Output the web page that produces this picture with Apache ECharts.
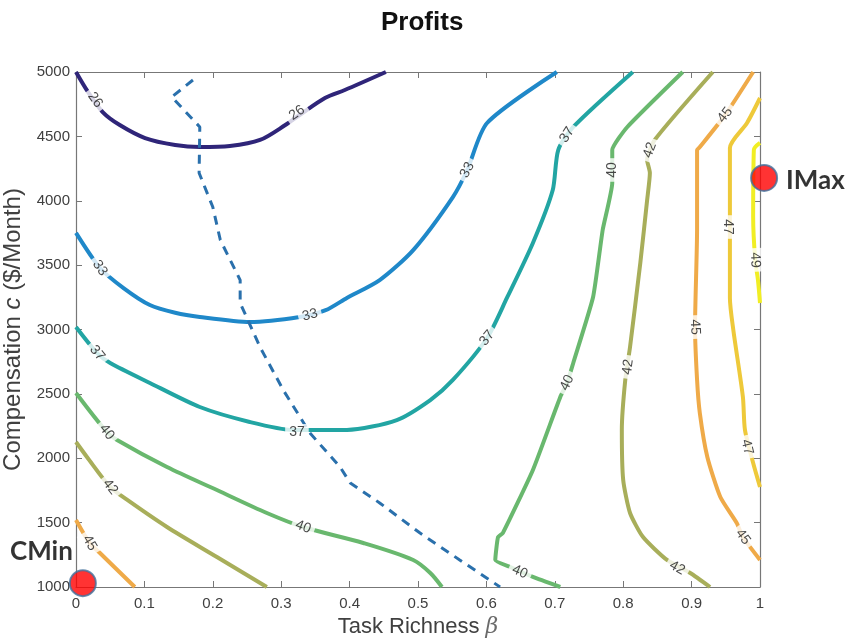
<!DOCTYPE html>
<html>
<head>
<meta charset="utf-8">
<script src="https://cdn.jsdelivr.net/npm/echarts@6/dist/echarts.min.js"></script>
<style>
  html, body { margin: 0; padding: 0; background: #fff; }
  #chart { width: 848px; height: 640px; }
</style>
</head>
<body>
<div id="chart"></div>
<script>
// Profit contours over task richness (beta) and monthly compensation (c)
const xTicks = [0, 0.1, 0.2, 0.3, 0.4, 0.5, 0.6, 0.7, 0.8, 0.9, 1];
const yTicks = [1000, 1500, 2000, 2500, 3000, 3500, 4000, 4500, 5000];

const c26 = [[0,5000],[0.0175,4845],[0.039,4689],[0.064,4588],[0.101,4487],[0.145,4433],[0.181,4417],
  [0.225,4425],[0.269,4472],[0.306,4588],[0.327,4666],[0.364,4798],[0.393,4860],[0.453,5000]];
const c33 = [[0,3750],[0.035,3478],[0.07,3320],[0.108,3190],[0.145,3130],[0.181,3097],[0.254,3058],
  [0.327,3097],[0.365,3150],[0.396,3245],[0.444,3384],[0.493,3617],[0.551,4029],[0.572,4239],
  [0.601,4604],[0.703,5000]];
const c37 = [[0,3020],[0.031,2817],[0.05,2740],[0.108,2585],[0.181,2398],[0.254,2282],[0.317,2220],
  [0.396,2220],[0.469,2297],[0.518,2452],[0.551,2608],[0.601,2934],[0.630,3245],[0.668,3672],
  [0.697,4083],[0.705,4394],[0.727,4573],[0.814,5000]];
const c40a = [[0,2507],[0.045,2204],[0.06,2142],[0.133,1932],[0.206,1753],[0.279,1575],[0.332,1466],
  [0.42,1342],[0.493,1210],[0.518,1109],[0.535,1000]];
const c40b = [[0.708,1000],[0.668,1078],[0.635,1155],[0.613,1210],[0.617,1388],[0.624,1419],
  [0.668,1909],[0.708,2476],[0.718,2585],[0.727,2740],[0.756,3252],[0.770,3773],[0.784,4138],
  [0.784,4394],[0.806,4573],[0.887,5000]];
const c42a = [[0,2126],[0.016,2010],[0.05,1777],[0.075,1676],[0.133,1466],[0.206,1233],[0.279,1000]];
const c42b = [[0.927,1000],[0.898,1109],[0.864,1210],[0.829,1388],[0.810,1575],[0.800,1831],
  [0.798,2220],[0.803,2608],[0.810,2864],[0.825,3516],[0.835,4006],[0.839,4216],[0.835,4317],
  [0.846,4472],[0.931,5000]];
const c45a = [[0,1520],[0.02,1342],[0.035,1264],[0.086,1000]];
const c45b = [[1.0,1210],[0.975,1388],[0.966,1497],[0.942,1699],[0.923,2010],[0.912,2352],
  [0.908,2608],[0.905,3019],[0.908,3773],[0.908,4394],[0.912,4417],[0.949,4666],[0.990,5000]];
const c47 = [[1.0,4798],[0.981,4604],[0.956,4410],[0.956,3874],[0.956,3245],[0.961,2996],
  [0.975,2476],[0.978,2220],[0.990,1963],[1.0,1777]];
const c49 = [[1.0,4449],[0.991,4394],[0.990,3874],[0.993,3540],[0.997,3384],[1.0,3206]];

// optimal-beta boundary (dashed)
const boundary = [[0.171,4938],[0.140,4806],[0.181,4573],[0.180,4216],[0.200,3951],[0.211,3695],
  [0.240,3384],[0.240,3206],[0.269,2864],[0.303,2530],[0.342,2196],[0.386,1932],[0.401,1808],
  [0.444,1653],[0.503,1419],[0.561,1210],[0.620,1000]];

// contour label anchors: [level, beta, c]
const contourLabels = [
  [26,0.028,4783],[26,0.323,4682],
  [33,0.035,3478],[33,0.342,3113],[33,0.572,4239],
  [37,0.031,2817],[37,0.323,2204],[37,0.601,2934],[37,0.718,4511],
  [40,0.045,2204],[40,0.332,1466],[40,0.649,1117],[40,0.718,2585],[40,0.784,4239],
  [42,0.05,1777],[42,0.879,1148],[42,0.807,2709],[42,0.839,4394],
  [45,0.02,1342],[45,0.975,1388],[45,0.905,3019],[45,0.949,4666],
  [47,0.953,3796],[47,0.981,2087],
  [49,0.993,3540]
];

const cMin = [0.01, 1030];
const iMax = [1.006, 4177];

const contours = [
  { level: 26, color: '#2f2579', data: c26, smooth: 0.3 },
  { level: 33, color: '#1f88c9', data: c33, smooth: 0.25 },
  { level: 37, color: '#22a5a3', data: c37, smooth: 0.25 },
  { level: 40, color: '#69b86e', data: c40a, smooth: 0.3 },
  { level: 40, color: '#69b86e', data: c40b, smooth: 0.15 },
  { level: 42, color: '#a8ae5a', data: c42a, smooth: 0.3 },
  { level: 42, color: '#a8ae5a', data: c42b, smooth: 0.2 },
  { level: 45, color: '#efaa48', data: c45a, smooth: 0.3 },
  { level: 45, color: '#efaa48', data: c45b, smooth: 0.2 },
  { level: 47, color: '#eec93a', data: c47, smooth: 0.25 },
  { level: 49, color: '#f1ee24', data: c49, smooth: 0.3 }
];

const chart = echarts.init(document.getElementById('chart'), null, { renderer: 'canvas' });

const axisGray = '#777777';
const textGray = '#404040';
const fontFam = '"Liberation Sans", Arial, sans-serif';

function baseX(pos, showLabels) {
  return {
    type: 'value', min: 0, max: 1, interval: 0.1, position: pos,
    axisLine: { show: true, onZero: false, lineStyle: { color: axisGray, width: 1.2 } },
    axisTick: { show: true, inside: true, length: 6, lineStyle: { color: axisGray } },
    axisLabel: { show: showLabels, color: textGray, fontSize: 15, fontFamily: fontFam, margin: 9,
      formatter: v => String(Math.round(v * 10) / 10) },
    splitLine: { show: false }
  };
}
function baseY(pos, showLabels) {
  return {
    type: 'value', min: 1000, max: 5000, interval: 500, position: pos,
    axisLine: { show: true, onZero: false, lineStyle: { color: axisGray, width: 1.2 } },
    axisTick: { show: true, inside: true, length: 6, lineStyle: { color: axisGray } },
    axisLabel: { show: showLabels, color: textGray, fontSize: 15, fontFamily: fontFam, margin: 6,
      formatter: v => String(v) },
    splitLine: { show: false }
  };
}

const xMain = baseX('bottom', true);
xMain.name = 'Task Richness {i|β}';
xMain.nameLocation = 'middle';
xMain.nameGap = 28;
xMain.nameTextStyle = { color: textGray, fontSize: 22, fontFamily: fontFam,
  rich: { i: { fontStyle: 'italic', fontSize: 22, color: '#6a6a6a', fontFamily: '"DejaVu Serif", serif' } } };
const yMain = baseY('left', true);
yMain.name = 'Compensation {i|c} ($/Month)';
yMain.nameLocation = 'middle';
yMain.nameGap = 44;
yMain.nameTextStyle = { color: textGray, fontSize: 24, fontFamily: fontFam,
  rich: { i: { fontStyle: 'italic', fontSize: 24, color: textGray, fontFamily: fontFam } } };

const series = contours.map(ct => ({
  type: 'line', data: ct.data, showSymbol: false, symbol: 'none', clip: false, z: 3,
  smooth: ct.smooth,
  lineStyle: { color: ct.color, width: 4, cap: 'butt', join: 'round' },
  silent: true
}));
series.push({
  type: 'line', data: boundary, showSymbol: false, symbol: 'none', z: 3,
  lineStyle: { color: '#2a70ac', width: 3, type: [9, 7] }, silent: true
});
const labelSeriesIndex = series.length;
series.push({
  type: 'scatter', symbol: 'circle', symbolSize: 1, z: 5, silent: true,
  itemStyle: { color: 'rgba(0,0,0,0)' },
  data: contourLabels.map(d => ({ value: [d[1], d[2], d[0]] })),
  label: { show: true, position: 'inside', formatter: p => String(p.value[2]),
    color: '#1a1a1a', fontSize: 14, fontFamily: fontFam,
    backgroundColor: '#ffffff', padding: [1, 4] }
});
series.push({
  type: 'scatter', symbol: 'circle', symbolSize: 26, z: 6, clip: false, silent: true,
  itemStyle: { color: '#ff0000', borderColor: '#41719c', borderWidth: 2 },
  data: [
    { value: cMin, label: { show: true, formatter: 'CMin', position: 'left', offset: [9, -32] } },
    { value: iMax, label: { show: true, formatter: 'IMax', position: 'right', distance: 8, offset: [0, 3] } }
  ],
  label: { color: '#000', fontSize: 26, fontWeight: 'bold', fontFamily: 'Lato, "Open Sans", sans-serif' }
});

chart.setOption({
  animation: false,
  backgroundColor: '#ffffff',
  title: {
    text: 'Profits', left: 376, top: 5,
    textStyle: { fontSize: 26, fontWeight: 'bold', color: '#111', fontFamily: fontFam }
  },
  grid: { left: 76, right: 88, top: 72, bottom: 53, containLabel: false, outerBoundsMode: 'none' },
  xAxis: [xMain, baseX('top', false)],
  yAxis: [yMain, baseY('right', false)],
  series: series
});

// Orient each contour label along its line
function labelAngle(level, pt) {
  let best = null, bestD = Infinity;
  contours.forEach((ct, si) => {
    if (ct.level !== level) return;
    const P = ct.data.map(p => chart.convertToPixel({ seriesIndex: si }, p));
    const q = chart.convertToPixel({ seriesIndex: si }, pt);
    for (let i = 0; i < P.length - 1; i++) {
      const ax = P[i][0], ay = P[i][1], bx = P[i + 1][0], by = P[i + 1][1];
      const dx = bx - ax, dy = by - ay;
      const L = dx * dx + dy * dy || 1;
      let t = ((q[0] - ax) * dx + (q[1] - ay) * dy) / L;
      t = Math.max(0, Math.min(1, t));
      const px = ax + t * dx, py = ay + t * dy;
      const d = Math.hypot(q[0] - px, q[1] - py);
      if (d < bestD) { bestD = d; best = [dx, dy]; }
    }
  });
  if (!best) return 0;
  let a = -Math.atan2(best[1], best[0]) * 180 / Math.PI;
  if (a > 90) a -= 180;
  if (a < -90) a += 180;
  return a;
}

const labelData = contourLabels.map(d => ({
  value: [d[1], d[2], d[0]],
  label: { rotate: labelAngle(d[0], [d[1], d[2]]) }
}));
const upd = [];
for (let i = 0; i < labelSeriesIndex; i++) upd.push({});
upd.push({ data: labelData });
chart.setOption({ series: upd });
</script>
</body>
</html>
